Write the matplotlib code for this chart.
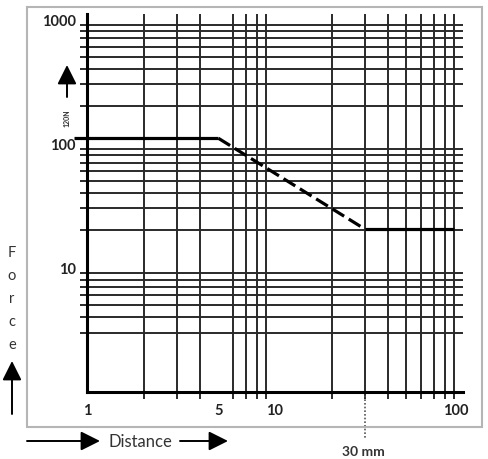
import matplotlib
matplotlib.use("Agg")
import matplotlib.pyplot as plt
from matplotlib.patches import Rectangle, FancyArrowPatch
from matplotlib.transforms import offset_copy

# ---- data ----
x_grid = [2, 3, 4, 5, 6, 7, 8, 9, 10, 20, 30, 40, 50, 60, 70, 80, 90]
y_grid = [3, 4, 5, 6, 7, 8, 9, 10, 20, 30, 40, 50, 60, 70, 80, 90, 100,
          200, 300, 400, 500, 600, 700, 800, 900, 1000]
x_labels_at = [1, 5, 10, 100]
x_labels = ["1", "5", "10", "100"]
y_labels_at = [10, 100, 1000]
y_labels = ["10", "100", "1000"]

flat_high_x = [0.85, 5]
flat_high_y = [110, 110]
slope_x = [5, 30]
slope_y = [110, 20.5]
flat_low_x = [30, 90]
flat_low_y = [20.5, 20.5]
marker_x = 30
marker_label = "30 mm"
force_label = "120N"

plt.rcParams['font.family'] = ['Lato', 'DejaVu Sans']

fig = plt.figure(figsize=(4.89, 4.60), dpi=100)
W, H = 489, 460
ax = fig.add_axes([87 / W, 1 - 393 / H, (463 - 87) / W, (393 - 15) / H])
ax.set_xscale('log')
ax.set_yscale('log')
ax.set_xlim(1, 100)
ax.set_ylim(1, 1100)

grid_col = '#2a2a2a'
ax.set_xticks(x_grid, minor=True)
ax.set_yticks(y_grid, minor=True)
ax.set_xticks(x_labels_at)
ax.set_xticklabels(x_labels)
ax.set_yticks(y_labels_at)
ax.set_yticklabels(y_labels)
ax.tick_params(which='minor', direction='out', length=5, width=1.4, color=grid_col,
               labelbottom=False, labelleft=False)
ax.tick_params(which='major', length=0, pad=8, labelsize=10.5)
for lab in ax.get_xticklabels() + ax.get_yticklabels():
    lab.set_fontweight('bold')
    lab.set_color('#222222')
# nudge the "100" label as in the reference
xl = ax.get_xticklabels()
xl[-1].set_transform(offset_copy(xl[-1].get_transform(), fig=fig, x=-7, y=0, units='dots'))
ax.grid(which='minor', color=grid_col, linewidth=1.4)
ax.grid(which='major', visible=False)
for s in ['top', 'right']:
    ax.spines[s].set_visible(False)
for s in ['left', 'bottom']:
    ax.spines[s].set_linewidth(2.2)
    ax.spines[s].set_color('black')

# curve
ax.plot(flat_high_x, flat_high_y, color='black', lw=2.3, solid_capstyle='butt', clip_on=False, zorder=5)
ax.plot(slope_x, slope_y, color='black', lw=2.3, dashes=(4.3, 1.7), clip_on=False, zorder=5)
ax.plot(flat_low_x, flat_low_y, color='black', lw=2.3, solid_capstyle='butt', clip_on=False, zorder=5)

# 30 mm dotted marker below axis
ax.plot([marker_x, marker_x], [0, -0.125], transform=ax.get_xaxis_transform(),
        color='#555555', lw=1.2, linestyle=(0, (1, 1.2)), clip_on=False)
fig.text(363 / W, 1 - 452 / H, marker_label, ha='center', va='center',
         fontsize=10, fontweight='bold', color='#333333')

# outer frame
fig.patches.append(Rectangle((27 / W, 1 - 428 / H), (482 - 27) / W, (428 - 8) / H,
                             transform=fig.transFigure, fill=False,
                             edgecolor='#b5b5b5', lw=1.5))

arrow_kw = dict(arrowstyle='-|>,head_length=0.9,head_width=0.45', color='black',
                lw=1.4, mutation_scale=13, shrinkA=0, shrinkB=0)

# Force label + arrow
for i, ch in enumerate("Force"):
    fig.text(12 / W, 1 - (253 + i * 23) / H, ch, ha='center', va='center',
             fontsize=10.5, color='#333333')
fig.add_artist(FancyArrowPatch((12, H - 415), (12, H - 362), transform=None, **arrow_kw))

# Distance label + arrows
fig.text(140 / W, 1 - 442 / H, "Distance", ha='center', va='center',
         fontsize=12, color='#333333')
fig.add_artist(FancyArrowPatch((27, H - 442), (100, H - 442), transform=None, **arrow_kw))
fig.add_artist(FancyArrowPatch((180, H - 442), (228, H - 442), transform=None, **arrow_kw))

# 120N label + arrow
fig.text(67 / W, 1 - 118 / H, force_label, ha='center', va='center', rotation=90,
         fontsize=5, fontweight='bold', color='#333333')
fig.add_artist(FancyArrowPatch((67, H - 98), (67, H - 66), transform=None, **arrow_kw))

fig.savefig('out.png', dpi=100)
